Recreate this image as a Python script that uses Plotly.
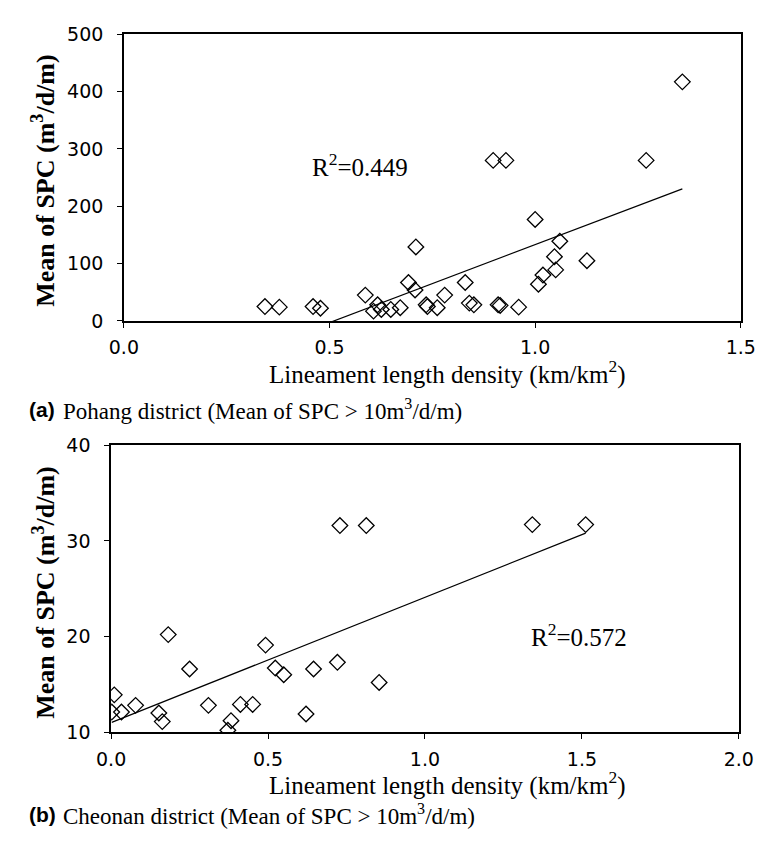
import plotly.graph_objects as go
import numpy as np

# ---------------- data ----------------
# (a) Pohang district
pohang_x = [0.343, 0.378, 0.460, 0.478, 0.587, 0.607, 0.617, 0.626, 0.649, 0.672,
            0.692, 0.708, 0.710, 0.735, 0.738, 0.762, 0.780, 0.830, 0.840, 0.851,
            0.898, 0.910, 0.915, 0.929, 0.960, 1.000, 1.008, 1.019, 1.047, 1.050,
            1.060, 1.126, 1.270, 1.358]
pohang_y = [25, 24, 25, 22, 45, 17, 28, 20, 20, 23,
            67, 54, 129, 28, 25, 23, 45, 67, 31, 28,
            280, 28, 27, 280, 24, 177, 64, 80, 112, 89,
            139, 105, 280, 417]
pohang_slope, pohang_intercept = 272.0, -139.0
pohang_r2 = "R<sup>2</sup>=0.449"

# (b) Cheonan district
cheonan_x = [0.002, 0.010, 0.033, 0.078, 0.152, 0.163, 0.182, 0.250, 0.310, 0.372,
             0.382, 0.412, 0.451, 0.492, 0.523, 0.550, 0.621, 0.645, 0.721, 0.729,
             0.813, 0.854, 1.342, 1.512]
cheonan_y = [12.1, 13.9, 12.1, 12.8, 12.0, 11.1, 20.2, 16.6, 12.8, 10.2,
             11.2, 12.9, 12.9, 19.1, 16.7, 16.0, 11.9, 16.6, 17.3, 31.6,
             31.6, 15.2, 31.7, 31.7]
cheonan_slope, cheonan_intercept = 13.1, 11.0
cheonan_r2 = "R<sup>2</sup>=0.572"

x_title = "Lineament length density (km/km<sup>2</sup>)"
y_title = "Mean of SPC (m<sup>3</sup>/d/m)"
cap_a_tag, cap_a_text = "(a)", "Pohang district (Mean of SPC &gt; 10m<sup>3</sup>/d/m)"
cap_b_tag, cap_b_text = "(b)", "Cheonan district (Mean of SPC &gt; 10m<sup>3</sup>/d/m)"

# ---------------- figure ----------------
W, H = 766, 841
def px(x): return x / W
def py(y): return 1 - y / H

SERIF = "Liberation Serif, Times New Roman, serif"
SANS = "Liberation Sans, Arial, sans-serif"
TICKF = "DejaVu Sans, sans-serif"

fig = go.Figure()

marker = dict(symbol="diamond-open", size=12, color="black", line=dict(width=1.3, color="black"))

fig.add_trace(go.Scatter(x=pohang_x, y=pohang_y, mode="markers", marker=marker,
                         xaxis="x", yaxis="y", showlegend=False))
lx = np.array([min(pohang_x), max(pohang_x)])
fig.add_trace(go.Scatter(x=lx, y=pohang_slope * lx + pohang_intercept, mode="lines",
                         line=dict(color="black", width=1.2), xaxis="x", yaxis="y", showlegend=False))

fig.add_trace(go.Scatter(x=cheonan_x, y=cheonan_y, mode="markers", marker=marker,
                         xaxis="x2", yaxis="y2", showlegend=False))
lx2 = np.array([min(cheonan_x), max(cheonan_x)])
fig.add_trace(go.Scatter(x=lx2, y=cheonan_slope * lx2 + cheonan_intercept, mode="lines",
                         line=dict(color="black", width=1.2), xaxis="x2", yaxis="y2", showlegend=False))

axis_common = dict(showgrid=False, zeroline=False, showline=True, linecolor="black", linewidth=1.5,
                   mirror=True, ticks="outside", ticklen=5, tickwidth=1.2, tickcolor="black",
                   tickfont=dict(family=TICKF, size=19, color="black"))

fig.update_layout(
    width=W, height=H, margin=dict(l=0, r=0, t=0, b=0),
    paper_bgcolor="white", plot_bgcolor="white",
    xaxis=dict(domain=[px(105), px(747)], range=[0, 1.5], tickvals=[0, 0.5, 1.0, 1.5],
               ticktext=["0.0", "0.5", "1.0", "1.5"], anchor="y", ticklabelstandoff=4, **axis_common),
    yaxis=dict(domain=[py(310), py(15.7)], range=[0, 500], tickvals=[0, 100, 200, 300, 400, 500],
               anchor="x", ticklabelstandoff=10, **axis_common),
    xaxis2=dict(domain=[px(91.7), px(745)], range=[0, 2.0], tickvals=[0, 0.5, 1.0, 1.5, 2.0],
                ticktext=["0.0", "0.5", "1.0", "1.5", "2.0"], anchor="y2", ticklabelstandoff=4, **axis_common),
    yaxis2=dict(domain=[py(732.3), py(437.7)], range=[10, 40], tickvals=[10, 20, 30, 40],
                anchor="x2", ticklabelstandoff=10, **axis_common),
)

ann = []
# R^2 labels (data coordinates)
ann.append(dict(x=0.574, y=272, xref="x", yref="y", text=pohang_r2, showarrow=False,
                font=dict(family=SERIF, size=25, color="black")))
ann.append(dict(x=1.49, y=20.2, xref="x2", yref="y2", text=cheonan_r2, showarrow=False,
                font=dict(family=SERIF, size=25, color="black")))
# axis titles
for yc in (363, 785):
    ann.append(dict(x=px(442), y=py(yc), xref="paper", yref="paper", text=x_title, showarrow=False,
                    xanchor="center", yanchor="middle", font=dict(family=SERIF, size=25, color="black")))
for yc in (166, 589):
    ann.append(dict(x=px(22), y=py(yc), xref="paper", yref="paper", text=y_title, showarrow=False,
                    textangle=-90, xanchor="center", yanchor="middle",
                    font=dict(family=SERIF, size=26, color="black", weight="bold")))
# captions
for (tag, txt, yc) in ((cap_a_tag, cap_a_text, 401), (cap_b_tag, cap_b_text, 817)):
    ann.append(dict(x=px(4), y=py(yc), xref="paper", yref="paper", text="<b>" + tag + "</b>", showarrow=False,
                    xanchor="left", yanchor="middle", font=dict(family=SANS, size=21, color="black")))
    ann.append(dict(x=px(40), y=py(yc), xref="paper", yref="paper", text=txt, showarrow=False,
                    xanchor="left", yanchor="middle", font=dict(family=SERIF, size=23, color="black")))

fig.update_layout(annotations=ann)
fig.write_html("out.html")
